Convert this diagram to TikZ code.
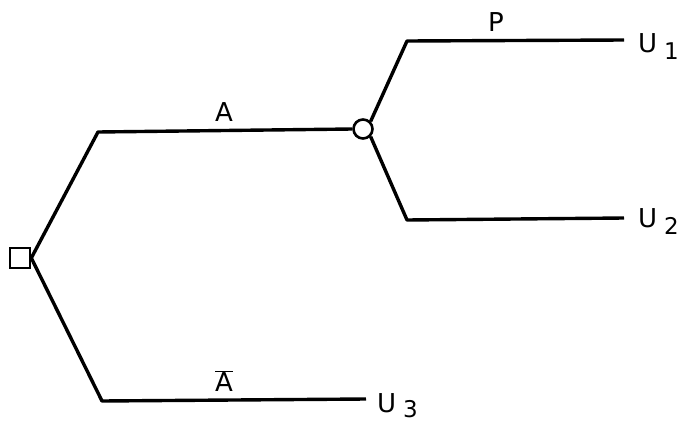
\documentclass[tikz,border=0pt]{standalone}
\usepackage{fontspec}
\setmainfont{DejaVu Sans}
\begin{document}
\begin{tikzpicture}[x=1pt,y=-1pt,
  branch/.style={line width=3.4pt,line join=round},
  lbl/.style={font=\fontsize{26}{26}\selectfont,inner sep=0pt},
  sub/.style={font=\fontsize{23}{23}\selectfont,inner sep=0pt}]
\useasboundingbox (0,0) rectangle (683,423);
\node[draw,line width=2.6pt,minimum size=20pt,inner sep=0pt] (dec) at (20,258) {};
\node[draw,circle,line width=2.6pt,minimum size=19pt,inner sep=0pt] (chance) at (363,129) {};
\coordinate (a1) at (98,132);
\coordinate (b1) at (102,401);
\coordinate (u3) at (366,399);
\coordinate (c1) at (407,41);
\coordinate (u1) at (624,40);
\coordinate (c2) at (407,220);
\coordinate (u2) at (624,218);
\draw[branch] (dec.east) -- (a1) -- (chance.west);
\draw[branch] (dec.east) -- (b1) -- (u3);
\draw[branch] (chance.north east) -- (c1) -- (u1);
\draw[branch] (chance.south east) -- (c2) -- (u2);
\node[lbl] (la) at (224,112) {A};
\node[lbl] (lp) at (496,22) {P};
\node[lbl] (lab) at (224,381) {$\overline{\mbox{A}}$};
\node[lbl,anchor=west] (t1) at (638,43) {U};
\node[sub,anchor=west] (s1) at (664,51) {1};
\node[lbl,anchor=west] (t2) at (638,218) {U};
\node[sub,anchor=west] (s2) at (664,226) {2};
\node[lbl,anchor=west] (t3) at (377,403) {U};
\node[sub,anchor=west] (s3) at (403,409) {3};
\end{tikzpicture}
\end{document}
